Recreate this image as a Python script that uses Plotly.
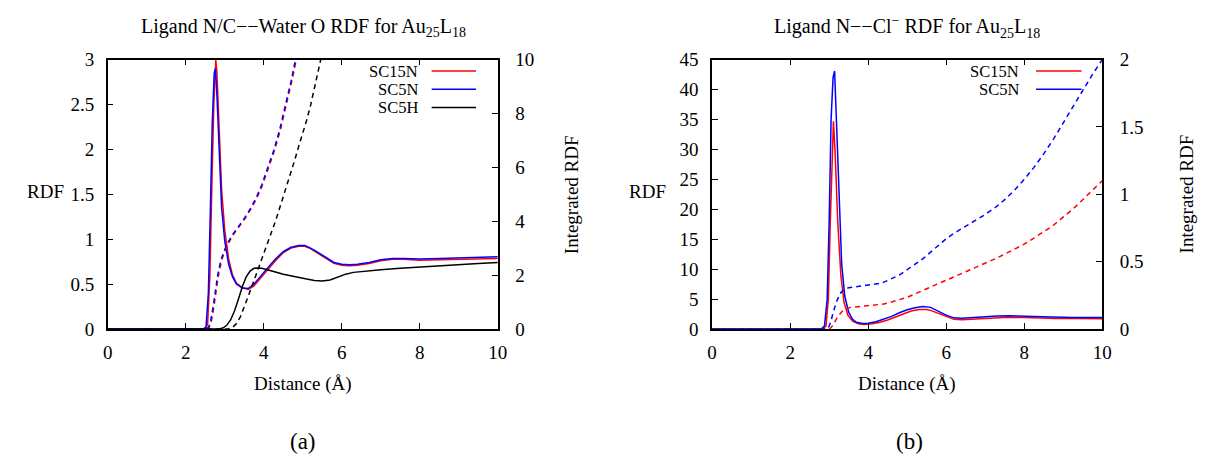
import plotly.graph_objects as go

W, H = 1209, 465

# ---------------- Panel (a): Ligand N/C -- Water O ----------------
a_sc15n_x = [0, 2.5, 2.56, 2.62, 2.67, 2.72, 2.77, 2.8, 2.86, 2.92, 3.0, 3.1, 3.2, 3.3, 3.45, 3.6, 3.75, 3.9, 4.1, 4.3, 4.5, 4.7, 4.9, 5.05, 5.2, 5.4, 5.6, 5.8, 6.0, 6.2, 6.4, 6.7, 7.0, 7.3, 7.6, 8.0, 8.5, 9.0, 9.5, 10]
a_sc15n_y = [0, 0, 0.05, 0.6, 1.6, 2.5, 3.0, 2.85, 2.2, 1.55, 1.1, 0.78, 0.6, 0.51, 0.46, 0.44, 0.48, 0.56, 0.66, 0.76, 0.85, 0.9, 0.92, 0.92, 0.895, 0.84, 0.78, 0.73, 0.71, 0.705, 0.71, 0.73, 0.76, 0.775, 0.775, 0.765, 0.77, 0.775, 0.78, 0.785]

a_sc5n_x = [0, 2.45, 2.52, 2.58, 2.63, 2.68, 2.73, 2.76, 2.8, 2.86, 2.92, 3.0, 3.1, 3.2, 3.3, 3.45, 3.6, 3.75, 3.9, 4.1, 4.3, 4.5, 4.7, 4.9, 5.05, 5.2, 5.4, 5.6, 5.8, 6.0, 6.2, 6.4, 6.7, 7.0, 7.3, 7.6, 8.0, 8.5, 9.0, 9.5, 10]
a_sc5n_y = [0, 0, 0.02, 0.4, 1.3, 2.3, 2.85, 2.9, 2.6, 1.9, 1.35, 0.98, 0.72, 0.58, 0.5, 0.455, 0.45, 0.5, 0.58, 0.68, 0.78, 0.86, 0.91, 0.93, 0.93, 0.9, 0.85, 0.79, 0.74, 0.72, 0.715, 0.72, 0.74, 0.77, 0.785, 0.785, 0.78, 0.785, 0.79, 0.8, 0.805]

a_sc5h_x = [0, 2.85, 2.95, 3.05, 3.15, 3.25, 3.35, 3.45, 3.55, 3.65, 3.75, 3.85, 3.95, 4.1, 4.3, 4.5, 4.7, 4.9, 5.1, 5.3, 5.5, 5.7, 5.9, 6.1, 6.3, 6.6, 7.0, 7.5, 8.0, 8.5, 9.0, 9.5, 10]
a_sc5h_y = [0, 0, 0.01, 0.04, 0.1, 0.2, 0.33, 0.47, 0.58, 0.645, 0.675, 0.68, 0.675, 0.66, 0.635, 0.61, 0.59, 0.57, 0.555, 0.54, 0.535, 0.545, 0.575, 0.61, 0.63, 0.645, 0.66, 0.675, 0.69, 0.705, 0.72, 0.73, 0.74]

# integrated RDF (right axis)
a_int_sc5n_x = [0, 2.5, 2.58, 2.64, 2.7, 2.76, 2.82, 2.9, 3.0, 3.1, 3.2, 3.35, 3.5, 3.65, 3.8, 3.95, 4.1, 4.25, 4.4, 4.55, 4.7, 4.8, 4.85]
a_int_sc5n_y = [0, 0, 0.05, 0.3, 0.8, 1.4, 2.0, 2.55, 2.95, 3.25, 3.5, 3.8, 4.1, 4.45, 4.85, 5.35, 5.95, 6.6, 7.35, 8.25, 9.2, 9.9, 10.3]
a_int_sc15n_x = [0, 2.53, 2.6, 2.66, 2.72, 2.78, 2.84, 2.92, 3.02, 3.12, 3.22, 3.37, 3.52, 3.67, 3.82, 3.97, 4.12, 4.27, 4.42, 4.57, 4.72, 4.82, 4.87]
a_int_sc15n_y = [0, 0, 0.05, 0.3, 0.8, 1.4, 2.0, 2.55, 2.95, 3.25, 3.5, 3.8, 4.1, 4.45, 4.85, 5.35, 5.95, 6.6, 7.35, 8.25, 9.2, 9.9, 10.3]
a_int_sc5h_x = [0, 3.1, 3.2, 3.3, 3.4, 3.5, 3.6, 3.7, 3.8, 3.9, 4.0, 4.1, 4.2, 4.3, 4.4, 4.5, 4.6, 4.7, 4.8, 4.9, 5.0, 5.1, 5.2, 5.3, 5.4, 5.46, 5.5]
a_int_sc5h_y = [0, 0, 0.05, 0.2, 0.45, 0.8, 1.2, 1.6, 2.0, 2.4, 2.8, 3.15, 3.55, 4.0, 4.45, 4.9, 5.35, 5.85, 6.3, 6.8, 7.25, 7.75, 8.3, 8.9, 9.6, 10.0, 10.3]

# ---------------- Panel (b): Ligand N -- Cl- ----------------
b_sc15n_x = [0, 2.85, 2.92, 2.98, 3.03, 3.08, 3.11, 3.15, 3.22, 3.3, 3.38, 3.48, 3.6, 3.75, 3.9, 4.1, 4.3, 4.5, 4.7, 4.9, 5.1, 5.3, 5.5, 5.6, 5.8, 6.0, 6.2, 6.4, 6.7, 7.0, 7.3, 7.6, 8.0, 8.4, 8.8, 9.3, 10]
b_sc15n_y = [0, 0, 0.5, 5, 18, 30, 34.7, 30, 18, 9, 4.5, 2.3, 1.3, 0.85, 0.75, 0.85, 1.1, 1.5, 2.0, 2.6, 3.0, 3.25, 3.25, 3.1, 2.6, 2.0, 1.6, 1.55, 1.65, 1.8, 1.9, 1.95, 1.9, 1.8, 1.75, 1.72, 1.7]

b_sc5n_x = [0, 2.8, 2.88, 2.95, 3.0, 3.05, 3.1, 3.14, 3.18, 3.25, 3.32, 3.4, 3.5, 3.6, 3.7, 3.85, 4.0, 4.2, 4.4, 4.6, 4.8, 5.0, 5.2, 5.4, 5.6, 5.8, 6.0, 6.2, 6.4, 6.7, 7.0, 7.3, 7.6, 7.9, 8.3, 8.7, 9.2, 10]
b_sc5n_y = [0, 0, 0.5, 5, 18, 35, 42, 43.1, 36, 22, 11, 5.5, 2.8, 1.6, 1.1, 0.9, 0.95, 1.2, 1.6, 2.1, 2.7, 3.2, 3.55, 3.75, 3.6, 3.0, 2.3, 1.85, 1.8, 1.9, 2.05, 2.15, 2.2, 2.15, 2.0, 1.95, 1.9, 1.9]

b_int_sc15n_x = [0, 3.0, 3.05, 3.1, 3.2, 3.3, 3.4, 3.55, 3.75, 3.95, 4.2, 4.4, 4.6, 4.8, 5.0, 5.2, 5.4, 5.6, 5.8, 6.0, 6.2, 6.4, 6.6, 6.8, 7.0, 7.25, 7.5, 7.75, 8.0, 8.25, 8.5, 8.75, 9.0, 9.25, 9.5, 9.75, 10]
b_int_sc15n_y = [0, 0, 0.01, 0.03, 0.08, 0.12, 0.145, 0.16, 0.165, 0.17, 0.175, 0.185, 0.2, 0.215, 0.235, 0.26, 0.285, 0.31, 0.34, 0.365, 0.39, 0.41, 0.435, 0.46, 0.49, 0.52, 0.555, 0.59, 0.63, 0.675, 0.72, 0.77, 0.83, 0.89, 0.96, 1.03, 1.1]
b_int_sc5n_x = [0, 2.95, 3.0, 3.05, 3.1, 3.2, 3.3, 3.4, 3.5, 3.7, 3.9, 4.1, 4.35, 4.6, 4.8, 5.0, 5.2, 5.4, 5.6, 5.8, 6.0, 6.2, 6.4, 6.6, 6.8, 7.0, 7.25, 7.5, 7.75, 8.0, 8.25, 8.5, 8.75, 9.0, 9.25, 9.5, 9.75, 10]
b_int_sc5n_y = [0, 0, 0.02, 0.06, 0.12, 0.21, 0.27, 0.295, 0.305, 0.315, 0.32, 0.33, 0.34, 0.37, 0.40, 0.44, 0.48, 0.52, 0.57, 0.62, 0.67, 0.71, 0.745, 0.775, 0.81, 0.85, 0.9, 0.96, 1.03, 1.11, 1.2, 1.3, 1.41, 1.53, 1.66, 1.78, 1.89, 2.0]

x_ticks = [0, 2, 4, 6, 8, 10]
RED, BLUE, BLACK = "#ff0000", "#0000ff", "#000000"
FONT = "Liberation Serif"
DASH = "5px,4px"

fig = go.Figure()


def add(x, y, color, xa, ya, dashed=False):
    fig.add_trace(go.Scatter(x=x, y=y, mode="lines", xaxis=xa, yaxis=ya,
                             line=dict(color=color, width=1.5, dash=DASH if dashed else "solid"),
                             showlegend=False, hoverinfo="skip"))


# panel a
add(a_sc15n_x, a_sc15n_y, RED, "x", "y")
add(a_sc5n_x, a_sc5n_y, BLUE, "x", "y")
add(a_sc5h_x, a_sc5h_y, BLACK, "x", "y")
add(a_int_sc15n_x, a_int_sc15n_y, RED, "x", "y2", True)
add(a_int_sc5n_x, a_int_sc5n_y, BLUE, "x", "y2", True)
add(a_int_sc5h_x, a_int_sc5h_y, BLACK, "x", "y2", True)
# panel b
add(b_sc15n_x, b_sc15n_y, RED, "x2", "y3")
add(b_sc5n_x, b_sc5n_y, BLUE, "x2", "y3")
add(b_int_sc15n_x, b_int_sc15n_y, RED, "x2", "y4", True)
add(b_int_sc5n_x, b_int_sc5n_y, BLUE, "x2", "y4", True)


def px(x):
    return x / W


def py(y):
    return 1 - y / H


ydom = [py(334), py(52)]
tickfont = dict(family=FONT, size=19, color="black")
common = dict(showgrid=False, zeroline=False, showline=True, linecolor="black", linewidth=1.5,
              ticks="inside", ticklen=6, tickwidth=1.2, tickcolor="black", tickfont=tickfont)

fig.update_layout(
    width=W, height=H, autosize=False,
    margin=dict(l=0, r=0, t=0, b=0),
    paper_bgcolor="white", plot_bgcolor="white",
    font=dict(family=FONT, color="black"),
    xaxis=dict(domain=[px(104), px(499)], range=[0, 10], tickvals=x_ticks, anchor="y",
               mirror="ticks", ticklabelstandoff=6, **common),
    yaxis=dict(domain=ydom, range=[0, 3], dtick=0.5, anchor="x", side="left",
               ticklabelstandoff=8, **common),
    yaxis2=dict(range=[0, 10], dtick=2, overlaying="y", anchor="x", side="right",
                ticklabelstandoff=12, **common),
    xaxis2=dict(domain=[px(716), px(1111)], range=[0, 10], tickvals=x_ticks, anchor="y3",
                mirror="ticks", ticklabelstandoff=6, **common),
    yaxis3=dict(domain=ydom, range=[0, 45], dtick=5, anchor="x2", side="left",
                ticklabelstandoff=8, **common),
    yaxis4=dict(range=[0, 2], dtick=0.5, overlaying="y3", anchor="x2", side="right",
                ticklabelstandoff=12, **common),
)

ann = []


def text(x, y, s, size=18, angle=0, xanchor="center"):
    ann.append(dict(x=px(x), y=py(y), xref="paper", yref="paper", text=s, showarrow=False,
                    textangle=angle, xanchor=xanchor, yanchor="middle",
                    font=dict(family=FONT, size=size, color="black")))


text(302, 18, "Ligand N/C\u2212\u2212Water O RDF for Au<sub>25</sub>L<sub>18</sub>", 20)
text(913, 18, "Ligand N\u2212\u2212Cl<sup>\u2212</sup> RDF for Au<sub>25</sub>L<sub>18</sub>", 20)
text(41, 190, "RDF", 19)
text(651, 190, "RDF", 19)
text(573, 193, "Integrated RDF", 19, angle=-90)
text(1196, 193, "Integrated RDF", 19, angle=-90)
text(302, 392, "Distance (\u00c5)", 19)
text(913, 392, "Distance (\u00c5)", 19)
text(302, 452, "(a)", 23)
text(916, 452, "(b)", 23)

# legends (gnuplot style: right-aligned text, sample line to its right)
legend_a = [("SC15N", RED), ("SC5N", BLUE), ("SC5H", BLACK)]
legend_b = [("SC15N", RED), ("SC5N", BLUE)]
shapes = []
rows = [64, 83, 102]
for (lab, col), ry in zip(legend_a, rows):
    text(420, ry, lab, 16.5, xanchor="right")
    shapes.append(dict(type="line", xref="paper", yref="paper", x0=px(432), x1=px(477),
                       y0=py(ry), y1=py(ry), line=dict(color=col, width=1.5)))
for (lab, col), ry in zip(legend_b, rows):
    text(1029, ry, lab, 16.5, xanchor="right")
    shapes.append(dict(type="line", xref="paper", yref="paper", x0=px(1044), x1=px(1090),
                       y0=py(ry), y1=py(ry), line=dict(color=col, width=1.5)))

fig.update_layout(annotations=ann, shapes=shapes)
fig.write_html("out.html")
